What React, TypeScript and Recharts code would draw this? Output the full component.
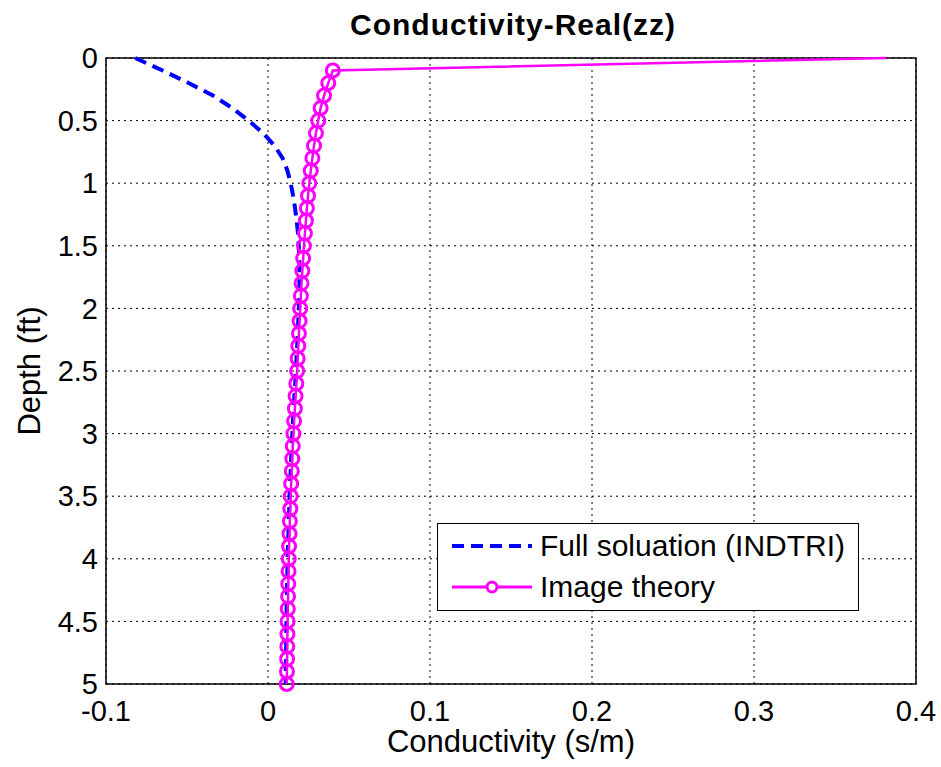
import React from 'react';
import {
  ScatterChart,
  Scatter,
  XAxis,
  YAxis,
  CartesianGrid,
  ReferenceArea,
} from 'recharts';

// depth (ft) shared by both curves, 0 to 5 in 0.1 steps
const depths = [
  0, 0.1, 0.2, 0.3, 0.4, 0.5, 0.6, 0.7, 0.8, 0.9, 1.0, 1.1, 1.2, 1.3, 1.4, 1.5, 1.6,
  1.7, 1.8, 1.9, 2.0, 2.1, 2.2, 2.3, 2.4, 2.5, 2.6, 2.7, 2.8, 2.9, 3.0, 3.1, 3.2, 3.3,
  3.4, 3.5, 3.6, 3.7, 3.8, 3.9, 4.0, 4.1, 4.2, 4.3, 4.4, 4.5, 4.6, 4.7, 4.8, 4.9, 5.0,
];

// Full solution (INDTRI), conductivity s/m
const fullSolution = [
  -0.082, -0.065, -0.049, -0.034, -0.022, -0.012, -0.003, 0.004, 0.009, 0.012, 0.014,
  0.0155, 0.0167, 0.0177, 0.0185, 0.019, 0.0193, 0.0194, 0.0194, 0.0193, 0.019, 0.0187,
  0.0184, 0.018, 0.0176, 0.0173, 0.0168, 0.0163, 0.0159, 0.0154, 0.015, 0.0146, 0.0143,
  0.014, 0.0136, 0.0133, 0.0131, 0.0128, 0.0126, 0.0123, 0.0121, 0.012, 0.0118, 0.0117,
  0.0115, 0.0114, 0.0113, 0.0112, 0.0111, 0.011, 0.0109,
];

// Image theory, conductivity s/m
const imageTheory = [
  0.382, 0.04, 0.0372, 0.0346, 0.0325, 0.031, 0.0296, 0.0284, 0.0274, 0.0264, 0.0255,
  0.0247, 0.024, 0.0234, 0.0228, 0.0222, 0.0217, 0.0212, 0.0207, 0.0203, 0.0199, 0.0195,
  0.0191, 0.0187, 0.0183, 0.018, 0.0175, 0.017, 0.0166, 0.0161, 0.0157, 0.0153, 0.015,
  0.0147, 0.0143, 0.014, 0.0138, 0.0135, 0.0133, 0.013, 0.0128, 0.0127, 0.0125, 0.0124,
  0.0122, 0.0121, 0.012, 0.0119, 0.0118, 0.0117, 0.0116,
];

const xTicks = [-0.1, 0, 0.1, 0.2, 0.3, 0.4];
const yTicks = [0, 0.5, 1, 1.5, 2, 2.5, 3, 3.5, 4, 4.5, 5];

const fullData = depths.map((d, i) => ({ depth: d, c: fullSolution[i] }));
const imageData = depths.map((d, i) => ({ depth: d, c: imageTheory[i] }));

const FONT = '"Liberation Sans", Arial, sans-serif';
const BLUE = '#0000ff';
const MAGENTA = '#ff00ff';

const noDot = () => <g />;

const ringDot = (p: any) => {
  if (p.payload && p.payload.depth === 0) return <g />;
  return <circle cx={p.cx} cy={p.cy} r={6.5} fill="none" stroke={MAGENTA} strokeWidth={3} />;
};

const LegendBox = () => (
  <div
    style={{
      position: 'absolute',
      left: 437,
      top: 523,
      width: 422,
      height: 88,
      border: '1.5px solid #000',
      background: '#fff',
      fontFamily: FONT,
      fontSize: 30,
      boxSizing: 'border-box',
    }}
  >
    <div style={{ display: 'flex', alignItems: 'center', height: 44 }}>
      <svg width={102} height={20}>
        <line x1={14} y1={10} x2={94} y2={10} stroke={BLUE} strokeWidth={4} strokeDasharray="12 7" />
      </svg>
      <span>Full soluation (INDTRI)</span>
    </div>
    <div style={{ display: 'flex', alignItems: 'center', height: 38 }}>
      <svg width={102} height={20}>
        <line x1={14} y1={10} x2={94} y2={10} stroke={MAGENTA} strokeWidth={3} />
        <circle cx={54} cy={10} r={5} fill="#fff" stroke={MAGENTA} strokeWidth={3} />
      </svg>
      <span>Image theory</span>
    </div>
  </div>
);

const App: React.FC = () => {
  return (
    <div style={{ position: 'absolute', left: 0, top: 0, width: 941, height: 767, background: '#fff' }}>
      <ScatterChart
        width={941}
        height={767}
        margin={{ top: 58, right: 25, bottom: 33, left: 26 }}
      >
        <CartesianGrid stroke="#000" strokeDasharray="2 4" strokeWidth={1} />
        <XAxis
          type="number"
          dataKey="c"
          domain={[-0.1, 0.4]}
          ticks={xTicks}
          height={50}
          tickLine={false}
          tickSize={0}
          tickMargin={16}
          axisLine={false}
          tick={{ fill: '#000', fontSize: 29, fontFamily: FONT }}
        />
        <YAxis
          type="number"
          dataKey="depth"
          domain={[0, 5]}
          ticks={yTicks}
          reversed
          width={80}
          tickLine={false}
          tickSize={0}
          tickMargin={8}
          axisLine={false}
          tick={{ fill: '#000', fontSize: 29, fontFamily: FONT }}
        />
        <ReferenceArea x1={-0.1} x2={0.4} y1={0} y2={5} fill="none" stroke="#000" strokeWidth={1.5} />
        <Scatter
          name="Full soluation (INDTRI)"
          data={fullData}
          fill={BLUE}
          line={{ stroke: BLUE, strokeWidth: 4, strokeDasharray: '12 7' }}
          lineType="joint"
          shape={noDot}
          isAnimationActive={false}
        />
        <Scatter
          name="Image theory"
          data={imageData}
          fill={MAGENTA}
          line={{ stroke: MAGENTA, strokeWidth: 2.5 }}
          lineType="joint"
          shape={ringDot}
          isAnimationActive={false}
        />
      </ScatterChart>
      <div
        style={{
          position: 'absolute',
          left: 0,
          width: 941,
          top: 8,
          paddingLeft: 85,
          boxSizing: 'border-box',
          textAlign: 'center',
          fontFamily: FONT,
          fontWeight: 'bold',
          fontSize: 30,
          letterSpacing: 1,
        }}
      >
        Conductivity-Real(zz)
      </div>
      <div
        style={{
          position: 'absolute',
          left: 0,
          width: 941,
          top: 724,
          paddingLeft: 81,
          boxSizing: 'border-box',
          textAlign: 'center',
          fontFamily: FONT,
          fontSize: 31,
        }}
      >
        Conductivity (s/m)
      </div>
      <div
        style={{
          position: 'absolute',
          left: 30,
          top: 371,
          transform: 'translate(-50%, -50%) rotate(-90deg)',
          fontFamily: FONT,
          fontSize: 31,
          whiteSpace: 'nowrap',
        }}
      >
        Depth (ft)
      </div>
      <LegendBox />
    </div>
  );
};

export default App;
